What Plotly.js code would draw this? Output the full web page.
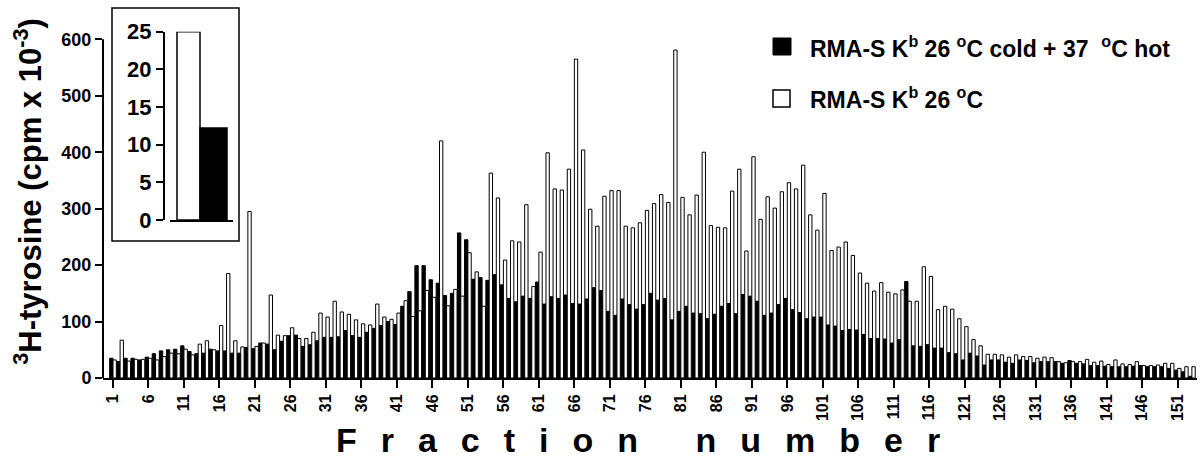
<!DOCTYPE html>
<html>
<head>
<meta charset="utf-8">
<script src="https://cdn.plot.ly/plotly-3.0.1.min.js"></script>
<style>
  html, body { margin: 0; padding: 0; background: #fff; }
  #chart { width: 1200px; height: 464px; }
</style>
</head>
<body>
<div id="chart"></div>
<script>
// Fraction numbers (category index 1..153)
const fractions = Array.from({length: 153}, (_, i) => i + 1);

// RMA-S Kb 26 oC cold + 37 oC hot (black bars), cpm x 10^-3
const coldHot = [
  35, 29, 35, 35, 32, 37, 43, 48, 50, 51,
  57, 47, 43, 44, 51, 48, 48, 44, 44, 54,
  52, 62, 60, 50, 65, 75, 76, 56, 59, 66,
  72, 72, 73, 84, 75, 72, 81, 88, 93, 100,
  95, 127, 153, 199, 199, 174, 168, 146, 150, 257,
  245, 175, 178, 173, 183, 165, 141, 135, 145, 141,
  170, 131, 144, 141, 147, 132, 131, 140, 160, 155,
  118, 111, 140, 130, 122, 130, 150, 138, 141, 103,
  118, 127, 115, 114, 105, 113, 127, 132, 114, 148,
  145, 136, 111, 115, 130, 141, 121, 116, 105, 108,
  108, 94, 92, 84, 86, 85, 77, 70, 70, 69,
  62, 68, 171, 57, 56, 59, 53, 53, 45, 43,
  32, 44, 39, 23, 32, 32, 28, 26, 32, 31,
  27, 29, 29, 29, 26, 31, 26, 25, 22, 22,
  21, 20, 20, 20, 21, 22, 20, 20, 20, 17,
  14, 11, 3
];

// RMA-S Kb 26 oC (white bars), cpm x 10^-3
const cold26 = [
  32, 67, 30, 33, 33, 35, 32, 38, 44, 43,
  51, 41, 60, 66, 50, 93, 185, 66, 55, 295,
  56, 62, 147, 76, 75, 89, 70, 70, 81, 115,
  108, 136, 117, 113, 103, 96, 94, 131, 108, 104,
  115, 137, 109, 119, 155, 143, 420, 128, 157, 145,
  222, 188, 127, 363, 319, 209, 243, 241, 307, 162,
  223, 399, 335, 333, 370, 565, 404, 299, 269, 322,
  332, 332, 269, 266, 275, 297, 309, 325, 311, 581,
  320, 289, 324, 400, 270, 267, 266, 331, 370, 225,
  392, 281, 321, 301, 330, 346, 335, 377, 289, 262,
  327, 226, 232, 241, 217, 186, 168, 154, 169, 152,
  149, 156, 136, 136, 197, 180, 121, 127, 122, 105,
  91, 68, 57, 42, 42, 41, 37, 41, 38, 38,
  35, 37, 36, 29, 27, 29, 29, 33, 28, 30,
  24, 32, 25, 24, 29, 22, 22, 23, 26, 26,
  17, 20, 20
];

const tickVals = [1, 6, 11, 16, 21, 26, 31, 36, 41, 46, 51, 56, 61, 66, 71, 76, 81, 86, 91, 96, 101, 106, 111, 116, 121, 126, 131, 136, 141, 146, 151];
const tickLabels = ['1','6','11','16','21','26','31','36','41','46','51','56','61','66','71','76','81','86','91','96','101','106','111','116','121','126','131','136','141','146','151'];
const yTicks = [0, 100, 200, 300, 400, 500, 600];

// Inset totals (white = 26 oC, black = cold + hot)
const insetPos = [0, 1];
const insetVals = [25, 12.2];
const insetTicks = [0, 5, 10, 15, 20, 25];

const seriesNames = ['RMA-S K<sup>b</sup> 26 <sup>o</sup>C cold + 37 \u00a0<sup>o</sup>C hot', 'RMA-S K<sup>b</sup> 26 <sup>o</sup>C'];

// pixel helpers for paper coords
const L = 103, R = 1197, T = 5, B = 378;
const px = x => (x - L) / (R - L);
const py = y => (B - y) / (B - T);

const FONT = 'Liberation Sans, Arial, Helvetica, sans-serif';

const traces = [
  {
    type: 'bar', x: fractions, y: coldHot, name: seriesNames[0],
    marker: {color: '#000', line: {color: '#000', width: 1}},
    showlegend: false, xaxis: 'x', yaxis: 'y'
  },
  {
    type: 'bar', x: fractions, y: cold26, name: seriesNames[1],
    marker: {color: '#fff', line: {color: '#000', width: 1}},
    showlegend: false, xaxis: 'x', yaxis: 'y'
  },
  {
    type: 'bar', x: insetPos, y: insetVals, width: [0.92, 1.08],
    marker: {color: ['#fff', '#000'], line: {color: '#000', width: 1.5}},
    showlegend: false, xaxis: 'x2', yaxis: 'y2'
  }
];

const layout = {
  width: 1200, height: 464,
  margin: {l: L, r: 1200 - R, t: T, b: 464 - B, pad: 0},
  paper_bgcolor: '#fff', plot_bgcolor: 'rgba(0,0,0,0)',
  font: {family: FONT, color: '#000'},
  barmode: 'group', bargap: 0.06, bargroupgap: 0,
  showlegend: false,
  xaxis: {
    range: [-0.409, 153.72], tickmode: 'array', tickvals: tickVals, ticktext: tickLabels,
    tickangle: -90, ticks: 'outside', ticklen: 8, tickwidth: 2, tickcolor: '#000',
    tickfont: {family: FONT, size: 16, weight: 'bold'},
    showline: true, linewidth: 2, linecolor: '#000', showgrid: false, zeroline: false,
    title: {text: '<span style="letter-spacing:24px">Fraction number</span>',
            font: {family: FONT, size: 34, weight: 'bold'}, standoff: 6}
  },
  yaxis: {
    range: [0, 660.8], tickmode: 'array', tickvals: yTicks,
    ticks: 'outside', ticklen: 7, tickwidth: 2, tickcolor: '#000',
    tickfont: {family: FONT, size: 18, weight: 'bold'},
    showline: false, showgrid: false, zeroline: false,
    title: {text: '<sup>3</sup>H-tyrosine (cpm x 10<sup>-3</sup>)',
            font: {family: FONT, size: 31, weight: 'bold'}, standoff: 10}
  },
  xaxis2: {
    domain: [px(170), px(233)], anchor: 'y2', range: [-0.74, 1.78],
    showline: true, linewidth: 2, linecolor: '#000', ticks: '', showticklabels: false,
    showgrid: false, zeroline: false, fixedrange: true
  },
  yaxis2: {
    domain: [py(220), py(31.7)], anchor: 'free', position: px(164), range: [0, 25],
    tickmode: 'array', tickvals: insetTicks,
    ticks: 'outside', ticklen: 7, tickwidth: 2, tickcolor: '#000',
    tickfont: {family: FONT, size: 22, weight: 'bold'},
    showline: true, linewidth: 2, linecolor: '#000', showgrid: false, zeroline: false
  },
  shapes: [
    // main y axis line 0..600
    {type: 'line', xref: 'paper', yref: 'y', x0: 0, x1: 0, y0: 0, y1: 600, line: {color: '#000', width: 2}},
    // inset frame
    {type: 'rect', xref: 'paper', yref: 'paper', x0: px(112), x1: px(239), y0: py(241), y1: py(8),
     line: {color: '#000', width: 1.5}, fillcolor: 'rgba(0,0,0,0)'},
    // legend swatches
    {type: 'rect', xref: 'paper', yref: 'paper', x0: px(773), x1: px(791), y0: py(55), y1: py(38),
     line: {color: '#000', width: 1}, fillcolor: '#000'},
    {type: 'rect', xref: 'paper', yref: 'paper', x0: px(773), x1: px(790), y0: py(107), y1: py(90),
     line: {color: '#000', width: 1.5}, fillcolor: '#fff'}
  ],
  annotations: [
    {xref: 'paper', yref: 'paper', x: px(808), y: py(47), xanchor: 'left', yanchor: 'middle',
     text: seriesNames[0], showarrow: false, font: {family: FONT, size: 23, weight: 'bold', color: '#000'}},
    {xref: 'paper', yref: 'paper', x: px(808), y: py(98), xanchor: 'left', yanchor: 'middle',
     text: seriesNames[1], showarrow: false, font: {family: FONT, size: 23, weight: 'bold', color: '#000'}}
  ]
};

Plotly.newPlot('chart', traces, layout, {displayModeBar: false, staticPlot: true});
</script>
</body>
</html>
